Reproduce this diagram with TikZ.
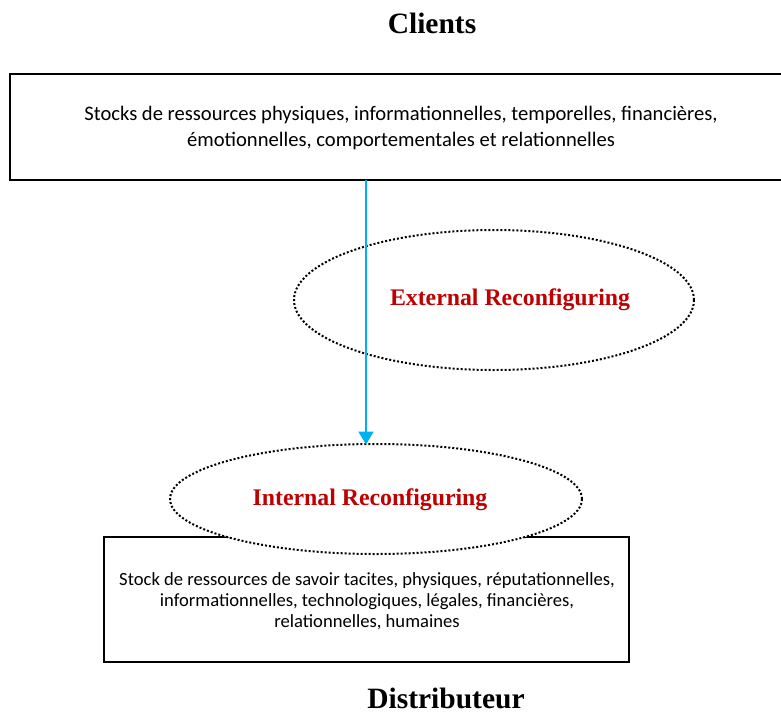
\documentclass[tikz,border=0pt]{standalone}
\usepackage{fontspec}
\setmainfont{Liberation Serif}
\newfontfamily\bodyfont{Carlito}
\usetikzlibrary{arrows.meta}
\definecolor{arrowblue}{RGB}{0,176,240}
\definecolor{titlered}{RGB}{192,0,0}
\begin{document}
\begin{tikzpicture}[x=1pt,y=-1pt,
  stockbox/.style={draw=black, line width=1.3pt, fill=white, inner sep=0pt},
  dotell/.style={draw=black, line width=2pt, dash pattern=on 2pt off 2pt},
  title/.style={font=\fontsize{29.5}{32}\selectfont\bfseries, inner sep=0pt, anchor=base},
  reconf/.style={font=\fontsize{23.8}{26}\selectfont\bfseries, text=titlered, inner sep=0pt},
  body/.style={font=\bodyfont\fontsize{20.6}{26}\selectfont, align=center, inner sep=0pt},
  smallbody/.style={font=\bodyfont\fontsize{18.6}{21}\selectfont, align=center, inner sep=0pt}]
\useasboundingbox (0,0) rectangle (781,715);
\clip (0,0) rectangle (781,715);
% top box
\draw[stockbox] (10,74) rectangle (790,180);
\coordinate (topbot) at (366,180);
\node[body] (toptext) at (401,128) {Stocks de ressources physiques, informationnelles, temporelles, financières,\\ émotionnelles, comportementales et relationnelles};
% titles
\node[title] (clients) at (432,33) {Clients};
\node[title] (distrib) at (446,708) {Distributeur};
% external ellipse
\draw[dotell] (494,300) ellipse [x radius=200, y radius=70];
\node[reconf] (ext) at (510,300) {External Reconfiguring};
% bottom box
\draw[stockbox] (104,537) rectangle (629,662);
\node[smallbody] (bottext) at (367,601) {Stock de ressources de savoir tacites, physiques, réputationnelles,\\ informationnelles, technologiques, légales, financières,\\ relationnelles, humaines};
% internal ellipse
\draw[dotell, fill=white] (376,499) ellipse [x radius=206, y radius=55];
\coordinate (inttop) at (366,444.5);
\node[reconf] (int) at (370,500) {Internal Reconfiguring};
% arrow
\draw[arrowblue, line width=2pt, -{Triangle[length=13pt,width=15pt]}] (topbot) -- (inttop);
\end{tikzpicture}
\end{document}
